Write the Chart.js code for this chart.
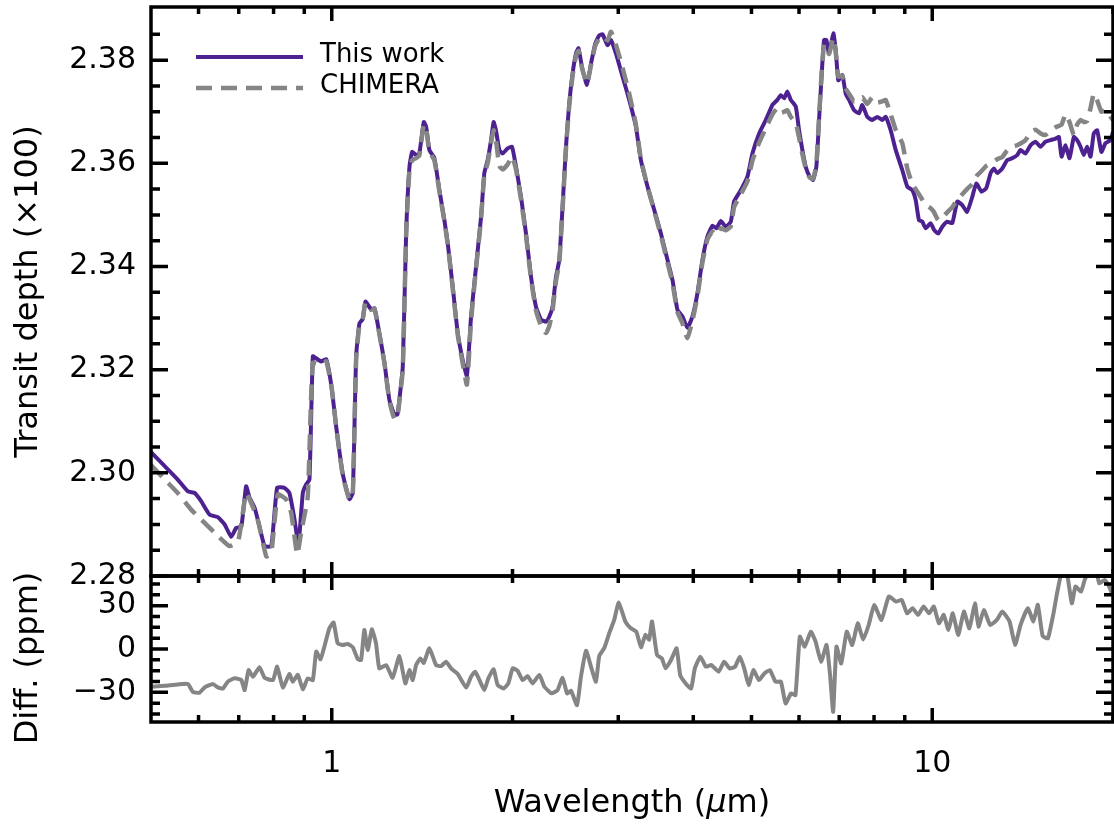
<!DOCTYPE html>
<html lang="en">
<head>
<meta charset="UTF-8">
<title>Transit depth: This work vs CHIMERA</title>
<script src="https://cdn.jsdelivr.net/npm/chart.js"></script>
<style>
  html, body { margin: 0; padding: 0; background: #fff; }
  #wrap { position: relative; width: 1114px; height: 825px; }
</style>
</head>
<body>
<div id="wrap"><canvas id="spectrum"></canvas></div>
<script>
// wavelengths in micron, transit depth in % (x100), differences in ppm
const workWl = [
  0.500, 0.527, 0.554, 0.576, 0.591, 0.606, 0.626, 0.646, 0.663, 0.680,
  0.693, 0.707, 0.720, 0.730, 0.744, 0.758, 0.773, 0.793, 0.811, 0.834,
  0.850, 0.867, 0.880, 0.895, 0.906, 0.918, 0.930, 0.942, 0.960, 0.979,
  0.999, 1.017, 1.043, 1.070, 1.084, 1.098, 1.112, 1.126, 1.138, 1.163,
  1.178, 1.200, 1.224, 1.247, 1.271, 1.286, 1.296, 1.313, 1.330, 1.347,
  1.361, 1.382, 1.399, 1.423, 1.436, 1.454, 1.482, 1.511, 1.540, 1.560,
  1.590, 1.621, 1.652, 1.679, 1.706, 1.739, 1.773, 1.795, 1.818, 1.842,
  1.860, 1.877, 1.901, 1.925, 1.963, 1.996, 2.027, 2.066, 2.106, 2.147,
  2.188, 2.231, 2.274, 2.303, 2.332, 2.363, 2.393, 2.423, 2.455, 2.486,
  2.518, 2.551, 2.576, 2.610, 2.661, 2.702, 2.747, 2.789, 2.825, 2.879,
  2.917, 2.973, 3.050, 3.129, 3.210, 3.272, 3.356, 3.443, 3.533, 3.623,
  3.693, 3.764, 3.837, 3.911, 3.987, 4.064, 4.143, 4.223, 4.305, 4.371,
  4.446, 4.532, 4.619, 4.678, 4.800, 4.923, 5.018, 5.149, 5.282, 5.418,
  5.522, 5.595, 5.666, 5.738, 5.813, 5.925, 6.001, 6.077, 6.157, 6.252,
  6.332, 6.412, 6.479, 6.546, 6.604, 6.663, 6.732, 6.844, 6.907, 6.976,
  7.084, 7.177, 7.268, 7.409, 7.552, 7.648, 7.796, 7.947, 8.100, 8.257,
  8.365, 8.527, 8.692, 8.915, 9.087, 9.263, 9.384, 9.503, 9.624, 9.750,
  9.939, 10.07, 10.23, 10.39, 10.59, 10.80, 11.01, 11.22, 11.43, 11.66,
  11.84, 12.08, 12.30, 12.51, 12.67, 12.83, 13.08, 13.33, 13.59, 13.85,
  14.03, 14.30, 14.58, 14.86, 15.15, 15.44, 15.74, 16.05, 16.25, 16.42,
  16.67, 16.93, 17.21, 17.43, 17.66, 17.88, 18.11, 18.35, 18.58, 18.82,
  19.13, 19.43, 19.81, 20.0
];
const workDepth = [
  2.3040, 2.3013, 2.2987, 2.2964, 2.2961, 2.2945, 2.2919, 2.2914, 2.2900, 2.2876,
  2.2893, 2.2896, 2.2974, 2.2951, 2.2932, 2.2896, 2.2858, 2.2858, 2.2971, 2.2971,
  2.2961, 2.2909, 2.2861, 2.2961, 2.2977, 2.2987, 2.3226, 2.3222, 2.3216, 2.3220,
  2.3167, 2.3090, 2.2998, 2.2949, 2.2961, 2.3226, 2.3290, 2.3298, 2.3332, 2.3317,
  2.3319, 2.3271, 2.3213, 2.3142, 2.3113, 2.3113, 2.3142, 2.3206, 2.3464, 2.3593,
  2.3622, 2.3616, 2.3619, 2.3680, 2.3671, 2.3626, 2.3610, 2.3548, 2.3490, 2.3445,
  2.3361, 2.3271, 2.3219, 2.3188, 2.3303, 2.3400, 2.3497, 2.3581, 2.3606, 2.3645,
  2.3680, 2.3664, 2.3626, 2.3619, 2.3629, 2.3632, 2.3593, 2.3535, 2.3464, 2.3380,
  2.3322, 2.3297, 2.3293, 2.3303, 2.3322, 2.3380, 2.3413, 2.3516, 2.3632, 2.3716,
  2.3774, 2.3813, 2.3823, 2.3787, 2.3752, 2.3793, 2.3832, 2.3848, 2.3850, 2.3829,
  2.3839, 2.3813, 2.3768, 2.3723, 2.3671, 2.3606, 2.3555, 2.3510, 2.3464, 2.3413,
  2.3374, 2.3316, 2.3303, 2.3281, 2.3303, 2.3348, 2.3413, 2.3458, 2.3479, 2.3474,
  2.3488, 2.3477, 2.3487, 2.3526, 2.3548, 2.3574, 2.3619, 2.3658, 2.3684, 2.3713,
  2.3723, 2.3732, 2.3726, 2.3739, 2.3723, 2.3710, 2.3664, 2.3626, 2.3593, 2.3574,
  2.3568, 2.3593, 2.3684, 2.3774, 2.3839, 2.3839, 2.3813, 2.3852, 2.3819, 2.3761,
  2.3771, 2.3735, 2.3723, 2.3703, 2.3697, 2.3713, 2.3690, 2.3684, 2.3690, 2.3684,
  2.3690, 2.3664, 2.3626, 2.3587, 2.3555, 2.3548, 2.3529, 2.3490, 2.3487, 2.3474,
  2.3484, 2.3471, 2.3464, 2.3477, 2.3487, 2.3484, 2.3526, 2.3519, 2.3506, 2.3535,
  2.3561, 2.3545, 2.3552, 2.3581, 2.3590, 2.3581, 2.3590, 2.3606, 2.3610, 2.3616,
  2.3626, 2.3619, 2.3635, 2.3642, 2.3632, 2.3642, 2.3645, 2.3648, 2.3651, 2.3613,
  2.3635, 2.3610, 2.3651, 2.3645, 2.3632, 2.3616, 2.3632, 2.3613, 2.3658, 2.3664,
  2.3622, 2.3639, 2.3645, 2.3661
];

const chimeraWl = [
  0.500, 0.527, 0.554, 0.583, 0.614, 0.638, 0.676, 0.698, 0.711, 0.720,
  0.734, 0.753, 0.778, 0.793, 0.813, 0.840, 0.856, 0.876, 0.889, 0.912,
  0.930, 0.960, 0.979, 0.999, 1.017, 1.043, 1.070, 1.084, 1.098, 1.112,
  1.126, 1.138, 1.163, 1.178, 1.200, 1.224, 1.247, 1.271, 1.286, 1.296,
  1.313, 1.330, 1.347, 1.361, 1.382, 1.399, 1.423, 1.436, 1.454, 1.482,
  1.511, 1.540, 1.560, 1.590, 1.621, 1.652, 1.679, 1.706, 1.739, 1.773,
  1.795, 1.818, 1.842, 1.860, 1.877, 1.901, 1.925, 1.963, 1.996, 2.027,
  2.066, 2.106, 2.147, 2.188, 2.231, 2.274, 2.303, 2.332, 2.363, 2.393,
  2.423, 2.455, 2.486, 2.518, 2.551, 2.576, 2.610, 2.661, 2.702, 2.747,
  2.789, 2.825, 2.879, 2.917, 2.973, 3.050, 3.129, 3.210, 3.272, 3.356,
  3.443, 3.533, 3.623, 3.693, 3.764, 3.837, 3.911, 3.987, 4.064, 4.143,
  4.223, 4.305, 4.371, 4.446, 4.532, 4.619, 4.678, 4.800, 4.923, 5.018,
  5.149, 5.282, 5.418, 5.522, 5.595, 5.666, 5.738, 5.813, 5.925, 6.001,
  6.077, 6.157, 6.252, 6.332, 6.412, 6.479, 6.546, 6.604, 6.663, 6.732,
  6.844, 6.907, 6.976, 7.084, 7.177, 7.268, 7.409, 7.552, 7.648, 7.796,
  7.947, 8.100, 8.257, 8.365, 8.527, 8.692, 8.915, 9.087, 9.263, 9.384,
  9.503, 9.750, 9.939, 10.07, 10.23, 10.39, 10.59, 10.80, 11.01, 11.22,
  11.43, 11.66, 11.84, 12.08, 12.30, 12.51, 12.83, 13.08, 13.33, 13.59,
  13.85, 14.30, 14.58, 14.86, 15.15, 15.44, 15.74, 16.05, 16.42, 16.67,
  16.93, 17.21, 17.43, 17.66, 17.88, 18.11, 18.35, 18.58, 18.82, 19.13,
  19.43, 19.81, 20.0
];
const chimeraDepth = [
  2.3015, 2.2987, 2.2961, 2.2929, 2.2903, 2.2884, 2.2858, 2.2867, 2.2922, 2.2961,
  2.2942, 2.2909, 2.2838, 2.2845, 2.2958, 2.2948, 2.2922, 2.2842, 2.2884, 2.2954,
  2.3213, 2.3210, 2.3216, 2.3167, 2.3090, 2.2995, 2.2948, 2.2958, 2.3220, 2.3287,
  2.3298, 2.3330, 2.3316, 2.3318, 2.3270, 2.3212, 2.3140, 2.3105, 2.3108, 2.3138,
  2.3200, 2.3460, 2.3588, 2.3606, 2.3610, 2.3615, 2.3675, 2.3668, 2.3622, 2.3606,
  2.3545, 2.3488, 2.3443, 2.3358, 2.3268, 2.3212, 2.3171, 2.3295, 2.3396, 2.3494,
  2.3578, 2.3600, 2.3640, 2.3664, 2.3645, 2.3595, 2.3588, 2.3598, 2.3613, 2.3588,
  2.3530, 2.3460, 2.3376, 2.3315, 2.3285, 2.3271, 2.3285, 2.3315, 2.3372, 2.3408,
  2.3510, 2.3628, 2.3712, 2.3770, 2.3808, 2.3818, 2.3785, 2.3755, 2.3790, 2.3828,
  2.3842, 2.3846, 2.3838, 2.3855, 2.3830, 2.3785, 2.3735, 2.3675, 2.3608, 2.3555,
  2.3508, 2.3460, 2.3408, 2.3368, 2.3312, 2.3290, 2.3261, 2.3295, 2.3342, 2.3408,
  2.3452, 2.3468, 2.3461, 2.3474, 2.3470, 2.3478, 2.3515, 2.3540, 2.3565, 2.3605,
  2.3640, 2.3668, 2.3695, 2.3707, 2.3698, 2.3700, 2.3703, 2.3690, 2.3678, 2.3650,
  2.3618, 2.3590, 2.3572, 2.3570, 2.3598, 2.3690, 2.3778, 2.3830, 2.3826, 2.3812,
  2.3843, 2.3815, 2.3768, 2.3770, 2.3745, 2.3735, 2.3720, 2.3722, 2.3728, 2.3715,
  2.3728, 2.3718, 2.3720, 2.3723, 2.3695, 2.3665, 2.3639, 2.3590, 2.3560, 2.3550,
  2.3540, 2.3520, 2.3513, 2.3505, 2.3490, 2.3495, 2.3505, 2.3515, 2.3530, 2.3540,
  2.3550, 2.3560, 2.3575, 2.3585, 2.3595, 2.3600, 2.3608, 2.3612, 2.3625, 2.3632,
  2.3635, 2.3645, 2.3660, 2.3665, 2.3658, 2.3655, 2.3663, 2.3670, 2.3675, 2.3695,
  2.3680, 2.3655, 2.3675, 2.3684, 2.3680, 2.3682, 2.3707, 2.3735, 2.3722, 2.3700,
  2.3703, 2.3690, 2.3684
];

const diffWl = [
  0.500, 0.527, 0.554, 0.576, 0.587, 0.602, 0.614, 0.634, 0.646, 0.659,
  0.671, 0.689, 0.707, 0.716, 0.727, 0.739, 0.758, 0.773, 0.798, 0.811,
  0.829, 0.850, 0.861, 0.878, 0.895, 0.912, 0.930, 0.942, 0.958, 0.972,
  0.991, 1.007, 1.023, 1.043, 1.063, 1.084, 1.105, 1.119, 1.133, 1.148,
  1.166, 1.185, 1.200, 1.232, 1.263, 1.296, 1.326, 1.347, 1.364, 1.382,
  1.405, 1.423, 1.454, 1.492, 1.521, 1.550, 1.580, 1.621, 1.674, 1.706,
  1.733, 1.762, 1.795, 1.823, 1.860, 1.889, 1.933, 1.968, 2.001, 2.039,
  2.079, 2.119, 2.160, 2.217, 2.260, 2.323, 2.377, 2.423, 2.465, 2.503,
  2.561, 2.600, 2.651, 2.702, 2.754, 2.789, 2.844, 2.898, 2.954, 3.005,
  3.083, 3.148, 3.215, 3.273, 3.329, 3.377, 3.414, 3.481, 3.546, 3.597,
  3.673, 3.752, 3.804, 3.885, 3.967, 4.024, 4.110, 4.198, 4.287, 4.408,
  4.502, 4.598, 4.696, 4.781, 4.863, 4.946, 5.037, 5.145, 5.254, 5.366,
  5.481, 5.597, 5.699, 5.820, 5.918, 6.019, 6.131, 6.279, 6.393, 6.529,
  6.668, 6.763, 6.839, 6.926, 7.054, 7.204, 7.358, 7.514, 7.674, 7.837,
  8.005, 8.231, 8.465, 8.705, 8.893, 9.082, 9.276, 9.471, 9.672, 9.878,
  10.06, 10.26, 10.45, 10.64, 10.82, 11.05, 11.29, 11.53, 11.78, 11.94,
  12.19, 12.49, 12.81, 13.08, 13.45, 13.74, 14.03, 14.43, 14.74, 14.99,
  15.27, 15.58, 15.92, 16.14, 16.44, 16.72, 17.08, 17.32, 17.69, 17.94,
  18.32, 18.71, 18.97, 19.37, 19.65, 20.0
];
const diffPpm = [
  -26.1, -25.4, -24.5, -24.2, -29.6, -30.3, -26.6, -24.2, -26.6, -27.3,
  -22.6, -20.3, -21.5, -28.4, -14.6, -19.2, -12.7, -19.9, -21.5, -12.2,
  -26.6, -17.3, -22.6, -17.9, -27.9, -20.3, -21.5, -1.8, -7.1, 1.6,
  14.3, 18.3, 3.9, 2.8, 3.5, 1.2, -7.1, -7.6, 13.2, -0.7,
  13.6, 3.9, -13.4, -11.1, -19.9, -4.9, -23.8, -14.6, -21.5, -11.1,
  -6.5, -9.7, 0.5, -11.1, -11.8, -8.8, -13.4, -17.3, -26.6, -19.2,
  -15.7, -21.5, -28.4, -20.3, -14.0, -24.9, -27.3, -23.8, -13.4, -15.0,
  -21.5, -18.7, -23.8, -17.9, -26.1, -30.7, -28.4, -19.9, -30.7, -28.9,
  -38.8, -19.2, -1.2, -12.2, -22.6, -4.9, 0.8, 10.9, 20.1, 32.1,
  18.9, 14.3, 12.0, 1.2, 9.7, 6.5, 19.0, -4.2, -6.5, -13.4,
  -7.6, 0.5, -18.0, -23.8, -27.3, -13.4, -5.3, -12.2, -11.1, -15.7,
  -8.8, -13.4, -12.2, -5.3, -13.4, -24.9, -14.6, -21.5, -16.9, -14.6,
  -22.6, -22.6, -37.6, -30.7, -31.9, 8.5, 1.6, 12.0, 5.1, -8.8,
  2.8, -19.2, -43.4, 1.6, -10.0, 12.0, 2.8, 17.8, 6.5, 16.6,
  30.5, 20.1, 36.3, 32.8, 34.0, 24.7, 28.2, 23.6, 29.4, 24.7,
  29.4, 17.8, 23.6, 13.2, 24.7, 9.7, 25.9, 14.3, 31.6, 15.5,
  27.0, 16.6, 20.1, 25.9, 19.0, 2.8, 16.6, 28.2, 19.0, 30.5,
  9.0, 7.4, 24.7, 38.6, 54.0, 55.0, 31.6, 43.2, 39.7, 47.7,
  55.0, 56.0, 45.5, 47.7, 44.4, 36.3
];

// axis ticks
const xMajor = [1, 10];
const xMinor = [0.6, 0.7, 0.8, 0.9, 2, 3, 4, 5, 6, 7, 8, 9, 20];
const depthMajor = [2.28, 2.30, 2.32, 2.34, 2.36, 2.38];
const depthMinor = [2.285, 2.29, 2.295, 2.305, 2.31, 2.315, 2.325, 2.33, 2.335,
                    2.345, 2.35, 2.355, 2.365, 2.37, 2.375, 2.385];
const diffMajor = [-30, 0, 30];
const diffMinor = [-45, -37.5, -22.5, -15, -7.5, 7.5, 15, 22.5, 37.5, 45];

const depthTitle = 'Transit depth (\u00d7100)';
const diffTitle = 'Diff. (ppm)';
const xTitleParts = ['Wavelength (', '\u03bc', 'm)'];

const FONT = '"DejaVu Sans", sans-serif';
const PURPLE = '#4d2290';
const GRAY = '#858585';

const toPoints = (xs, ys) => xs.map((x, i) => ({ x: x, y: ys[i] }));

// keep each series inside its own panel
const panelClip = {
  id: 'panelClip',
  beforeDatasetDraw(chart, args) {
    const ys = args.meta.yScale, a = chart.chartArea, c = chart.ctx;
    c.save();
    c.beginPath();
    c.rect(a.left, ys.top, a.right - a.left, ys.bottom - ys.top);
    c.clip();
  },
  afterDatasetDraw(chart) {
    chart.ctx.restore();
  }
};

// boxed panels with inward ticks on every side
const frame = {
  id: 'frame',
  afterDatasetsDraw(chart) {
    const c = chart.ctx, a = chart.chartArea, xs = chart.scales.x;
    c.save();
    c.strokeStyle = '#000';
    c.lineWidth = 3.5;
    const panels = [
      [chart.scales.yTop, depthMajor, depthMinor],
      [chart.scales.yDiff, diffMajor, diffMinor]
    ];
    panels.forEach(([ys, major, minor]) => {
      c.strokeRect(a.left, ys.top, a.right - a.left, ys.bottom - ys.top);
      c.beginPath();
      const xt = (v, len) => {
        const px = xs.getPixelForValue(v);
        c.moveTo(px, ys.top); c.lineTo(px, ys.top + len);
        c.moveTo(px, ys.bottom); c.lineTo(px, ys.bottom - len);
      };
      const yt = (v, len) => {
        const py = ys.getPixelForValue(v);
        c.moveTo(a.left, py); c.lineTo(a.left + len, py);
        c.moveTo(a.right, py); c.lineTo(a.right - len, py);
      };
      xMajor.forEach(v => xt(v, 14));
      xMinor.forEach(v => xt(v, 7));
      major.forEach(v => yt(v, 17));
      minor.forEach(v => yt(v, 9));
      c.stroke();
    });
    c.restore();
  }
};

// axis titles and the legend in the upper left
const labels = {
  id: 'labels',
  afterDraw(chart) {
    const c = chart.ctx, a = chart.chartArea;
    const top = chart.scales.yTop, diff = chart.scales.yDiff;
    c.save();
    c.fillStyle = '#000';
    c.font = '32px ' + FONT;
    c.textAlign = 'center';
    c.textBaseline = 'alphabetic';
    const vertical = (text, x, y) => {
      c.save();
      c.translate(x, y);
      c.rotate(-Math.PI / 2);
      c.fillText(text, 0, 0);
      c.restore();
    };
    vertical(depthTitle, 37, (top.top + top.bottom) / 2);
    vertical(diffTitle, 37, (diff.top + diff.bottom) / 2 + 9);

    // x title, mu in italics
    const plain = '32px ' + FONT, italic = 'italic 32px ' + FONT;
    const fonts = [plain, italic, plain];
    const widths = xTitleParts.map((t, i) => { c.font = fonts[i]; return c.measureText(t).width; });
    let tx = (a.left + a.right) / 2 - widths.reduce((s, w) => s + w, 0) / 2;
    c.textAlign = 'left';
    xTitleParts.forEach((t, i) => {
      c.font = fonts[i];
      c.fillText(t, tx, 812);
      tx += widths[i];
    });

    // legend
    const items = chart.data.datasets.filter(d => d.yAxisID === 'yTop');
    items.forEach((ds, i) => {
      const y = a.top + 50 + i * 31;
      c.beginPath();
      c.strokeStyle = ds.borderColor;
      c.lineWidth = ds.borderWidth;
      c.setLineDash(ds.borderDash || []);
      c.moveTo(a.left + 45, y);
      c.lineTo(a.left + 152, y);
      c.stroke();
      c.setLineDash([]);
      c.font = '26px ' + FONT;
      c.textBaseline = 'middle';
      c.fillStyle = '#000';
      c.fillText(ds.label, a.left + 169, y - 2);
    });
    c.restore();
  }
};

const tickFont = { family: FONT, size: 30 };
const noGrid = { display: false, drawTicks: false };

// fixed axis boxes, no extra room for half-labels at the ends
const fixWidth = s => {
  s.width = 151;
  s.paddingTop = 0;
  s.paddingBottom = 0;
};
const fixHeight = s => {
  s.height = 103;
  s.paddingLeft = 0;
  s.paddingRight = 0;
};

new Chart(document.getElementById('spectrum'), {
  type: 'line',
  data: {
    datasets: [
      {
        label: 'This work',
        data: toPoints(workWl, workDepth),
        yAxisID: 'yTop',
        borderColor: PURPLE,
        borderWidth: 4,
        order: 2
      },
      {
        label: 'CHIMERA',
        data: toPoints(chimeraWl, chimeraDepth),
        yAxisID: 'yTop',
        borderColor: GRAY,
        borderWidth: 4.5,
        borderDash: [16, 9],
        borderCapStyle: 'butt',
        order: 1
      },
      {
        label: 'Diff.',
        data: toPoints(diffWl, diffPpm),
        yAxisID: 'yDiff',
        borderColor: GRAY,
        borderWidth: 4,
        order: 0
      }
    ]
  },
  options: {
    responsive: true,
    maintainAspectRatio: false,
    animation: false,
    layout: { padding: { top: 7, right: 1, bottom: 0, left: 0 } },
    elements: {
      point: { radius: 0 },
      line: { tension: 0.15, borderJoinStyle: 'round' }
    },
    plugins: {
      legend: { display: false },
      tooltip: { enabled: false }
    },
    scales: {
      x: {
        type: 'logarithmic',
        min: 0.5,
        max: 20,
        position: 'bottom',
        grid: noGrid,
        border: { display: false },
        afterBuildTicks: s => { s.ticks = xMajor.map(v => ({ value: v })); },
        afterFit: fixHeight,
        ticks: {
          font: tickFont, color: '#000', padding: 24,
          maxRotation: 0, autoSkip: false,
          callback: v => String(v)
        }
      },
      yDiff: {
        type: 'linear',
        position: 'left',
        stack: 'panels',
        stackWeight: 146,
        min: -50.5,
        max: 50.5,
        grid: noGrid,
        border: { display: false },
        afterBuildTicks: s => { s.ticks = diffMajor.map(v => ({ value: v })); },
        afterFit: fixWidth,
        ticks: {
          font: tickFont, color: '#000', padding: 15, autoSkip: false,
          callback: v => (v < 0 ? '\u2212' + Math.abs(v) : String(v))
        }
      },
      yTop: {
        type: 'linear',
        position: 'left',
        stack: 'panels',
        stackWeight: 569,
        min: 2.28,
        max: 2.3903,
        grid: noGrid,
        border: { display: false },
        afterBuildTicks: s => { s.ticks = depthMajor.map(v => ({ value: v })); },
        afterFit: fixWidth,
        ticks: {
          font: tickFont, color: '#000', padding: 15, autoSkip: false,
          callback: v => v.toFixed(2)
        }
      }
    }
  },
  plugins: [panelClip, frame, labels]
});
</script>
</body>
</html>
